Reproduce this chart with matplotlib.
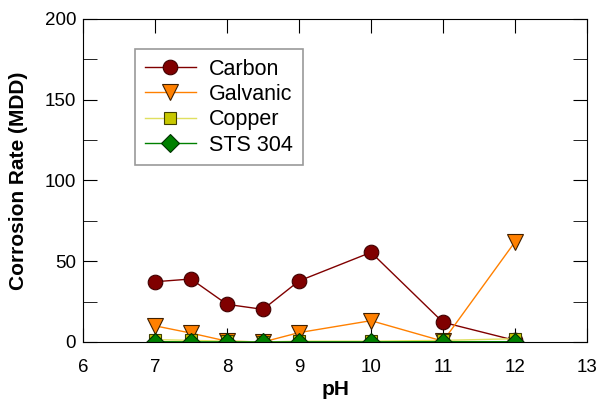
import matplotlib
matplotlib.use("Agg")
import matplotlib.pyplot as plt
from matplotlib.ticker import MultipleLocator

plt.rcParams["font.family"] = ["Liberation Sans", "DejaVu Sans"]

ph = [7, 7.5, 8, 8.5, 9, 10, 11, 12]
carbon = [37.3, 39.0, 23.3, 20.2, 37.8, 55.5, 12.2, 1.0]
galvanic = [10.0, 5.5, 0.5, 0.0, 5.8, 13.2, 0.5, 62.0]
copper = [1.5, 1.0, 0.5, 0.0, 0.5, 0.5, 1.0, 2.0]
sts304 = [0.2, 0.1, 0.1, 0.0, 0.1, 0.1, 0.2, 0.2]

fig = plt.figure(figsize=(5.99, 4.03), dpi=100)
ax = fig.add_axes([0.1386, 0.1514, 0.8414, 0.8015])

ax.plot(ph, carbon, color="#800000", lw=1, marker="o", ms=10.5,
        mfc="#800000", mec="#400000", mew=0.8, label="Carbon")
ax.plot(ph, galvanic, color="#ff8000", lw=1, marker="v", ms=11,
        mfc="#ff8000", mec="#402000", mew=0.8, label="Galvanic")
ax.plot(ph, copper, color="#e0e060", lw=1, marker="s", ms=9,
        mfc="#c8c800", mec="#404000", mew=0.8, label="Copper")
ax.plot(ph, sts304, color="#008000", lw=1, marker="D", ms=9.5,
        mfc="#008000", mec="#003000", mew=0.8, label="STS 304")

ax.set_xlim(6, 13)
ax.set_ylim(0, 200)
ax.xaxis.set_major_locator(MultipleLocator(1))
ax.yaxis.set_major_locator(MultipleLocator(50))
ax.yaxis.set_minor_locator(MultipleLocator(25))
ax.tick_params(which="both", direction="in", top=True, right=True,
               labelsize=13.5, length=10)
ax.tick_params(which="minor", length=10)
ax.tick_params(axis="x", pad=12)
ax.tick_params(axis="y", pad=5)
ax.set_xlabel("pH", fontsize=15, fontweight="bold", labelpad=3)
ax.set_ylabel("Corrosion Rate (MDD)", fontsize=15, fontweight="bold", labelpad=12)

leg = ax.legend(loc="upper left", bbox_to_anchor=(0.103, 0.907), fontsize=15.5,
                frameon=True, fancybox=False, edgecolor="#808080",
                handlelength=2.4, handletextpad=0.6, borderpad=0.45,
                labelspacing=0.2, borderaxespad=0)
leg.get_frame().set_linewidth(1.2)

fig.savefig("out.png", dpi=100)
